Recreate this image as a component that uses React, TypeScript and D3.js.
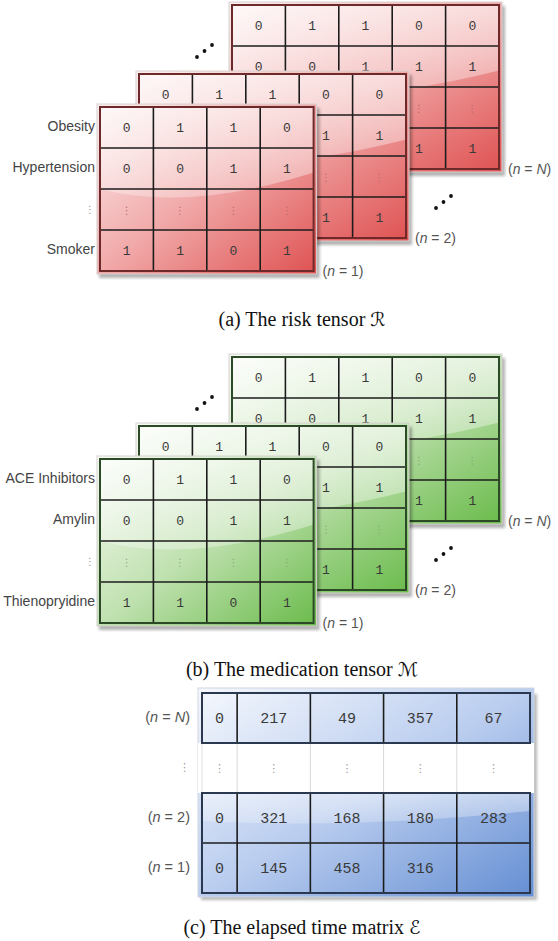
import React from "react";
import * as d3 from "d3";

// ---------- data ----------
const riskLabels = ["Obesity", "Hypertension", "⋮", "Smoker"];
const riskSlice1 = [["0", "1", "1", "0"], ["0", "0", "1", "1"], ["⋮", "⋮", "⋮", "⋮"], ["1", "1", "0", "1"]];
const riskSlice2 = [["0", "1", "1", "0", "0"], ["0", "0", "1", "1", "1"], ["⋮", "⋮", "⋮", "⋮", "⋮"], ["1", "1", "0", "1", "1"]];
const riskSliceN = [["0", "1", "1", "0", "0"], ["0", "0", "1", "1", "1"], ["⋮", "⋮", "⋮", "⋮", "⋮"], ["1", "1", "0", "1", "1"]];

const medLabels = ["ACE Inhibitors", "Amylin", "⋮", "Thienopryidine"];
const medSlice1 = [["0", "1", "1", "0"], ["0", "0", "1", "1"], ["⋮", "⋮", "⋮", "⋮"], ["1", "1", "0", "1"]];
const medSlice2 = [["0", "1", "1", "0", "0"], ["0", "0", "1", "1", "1"], ["⋮", "⋮", "⋮", "⋮", "⋮"], ["1", "1", "0", "1", "1"]];
const medSliceN = [["0", "1", "1", "0", "0"], ["0", "0", "1", "1", "1"], ["⋮", "⋮", "⋮", "⋮", "⋮"], ["1", "1", "0", "1", "1"]];

const sliceNames = ["N", "2", "1"];
const elapsedRowNames = ["N", "⋮", "2", "1"];
const elapsedRows = [
  ["0", "217", "49", "357", "67"],
  ["⋮", "⋮", "⋮", "⋮", "⋮"],
  ["0", "321", "168", "180", "283"],
  ["0", "145", "458", "316", ""],
];
const elapsedColWeights = [0.48, 1, 1, 1, 1];

const captions = [
  { pre: "(a) The risk tensor ", sym: "ℛ" },
  { pre: "(b) The medication tensor ", sym: "ℳ" },
  { pre: "(c) The elapsed time matrix ", sym: "ℰ" },
];

// ---------- layout ----------
const CW = 53.4;
const RH = 41;
const LABEL_FONT = "Liberation Sans, Arial, sans-serif";
const MONO = "Liberation Mono, DejaVu Sans Mono, monospace";
const SERIF = "Liberation Serif, Times New Roman, DejaVu Serif, serif";

type Pal = { id: string; light: string; mid: string; dark: string; edge: string; dots: string };
const RED: Pal = { id: "red", light: "#fdf0f0", mid: "#f1a8a8", dark: "#df5252", edge: "#6e2a2a", dots: "#b86a6a" };
const GREEN: Pal = { id: "green", light: "#f7fbf4", mid: "#c0e1b0", dark: "#6abb4b", edge: "#2d4a28", dots: "#86a87a" };
const BLUE: Pal = { id: "blue", light: "#f5f8fd", mid: "#bacdef", dark: "#648ed3", edge: "#2a3850", dots: "#8a9ab5" };

function Defs() {
  return (
    <defs>
      {[RED, GREEN, BLUE].map((p) => (
        <linearGradient key={p.id} id={`g-${p.id}`} x1="0" y1="0" x2="1" y2="1">
          <stop offset="0" stopColor={p.light} />
          <stop offset="0.5" stopColor={p.mid} />
          <stop offset="1" stopColor={p.dark} />
        </linearGradient>
      ))}
      <linearGradient id="gloss" x1="0" y1="0" x2="0" y2="1">
        <stop offset="0" stopColor="#fff" stopOpacity="0.6" />
        <stop offset="1" stopColor="#fff" stopOpacity="0.3" />
      </linearGradient>
      <filter id="blur" x="-10%" y="-10%" width="120%" height="120%">
        <feGaussianBlur stdDeviation="1.6" />
      </filter>
    </defs>
  );
}

function SliceLabel({ x, y, name, size = 14 }: { x: number; y: number; name: string; size?: number }) {
  const italic = name === "N";
  return (
    <text x={x} y={y} fontFamily={LABEL_FONT} fontSize={size} fill="#555" dominantBaseline="middle">
      (<tspan fontStyle="italic">n</tspan> = {italic ? <tspan fontStyle="italic">N</tspan> : name})
    </text>
  );
}

function Matrix({ x0, y0, values, pal, name }: { x0: number; y0: number; values: string[][]; pal: Pal; name: string }) {
  const nc = values[0].length;
  const nr = values.length;
  const xs = d3.scaleLinear().domain([0, nc]).range([x0, x0 + nc * CW]);
  const ys = d3.scaleLinear().domain([0, nr]).range([y0, y0 + nr * RH]);
  const w = xs(nc) - xs(0);
  const h = ys(nr) - ys(0);
  const gloss = `M${x0},${y0} H${x0 + w} V${y0 + h * 0.4} Q${x0 + w * 0.42},${y0 + h * 0.64} ${x0},${y0 + h * 0.5} Z`;
  return (
    <g>
      <rect x={x0 - 1} y={y0 + 1} width={w + 7} height={h + 6} fill="#000" opacity={0.3} filter="url(#blur)" />
      <rect x={x0 - 3} y={y0 - 3} width={w + 6} height={h + 6} fill={`url(#g-${pal.id})`} stroke="#d8d2d2" strokeWidth={1} />
      <path d={gloss} fill="url(#gloss)" />
      {d3.range(1, nc).map((c) => (
        <line key={"c" + c} x1={xs(c)} x2={xs(c)} y1={y0} y2={y0 + h} stroke="#1c1c1c" strokeWidth={1.6} />
      ))}
      {d3.range(1, nr).map((r) => (
        <line key={"r" + r} x1={x0} x2={x0 + w} y1={ys(r)} y2={ys(r)} stroke="#1c1c1c" strokeWidth={1.6} />
      ))}
      <rect x={x0} y={y0} width={w} height={h} fill="none" stroke={pal.edge} strokeWidth={2} />
      {values.map((row, r) =>
        row.map((v, c) => (
          <text
            key={r + "-" + c}
            x={(xs(c) + xs(c + 1)) / 2}
            y={(ys(r) + ys(r + 1)) / 2 + 1}
            textAnchor="middle"
            dominantBaseline="middle"
            fontFamily={v === "⋮" ? "DejaVu Sans, sans-serif" : MONO}
            fontSize={v === "⋮" ? 10 : 13}
            fill={v === "⋮" ? pal.dots : "#3a3a3a"}
          >
            {v}
          </text>
        ))
      )}
      <SliceLabel x={x0 + w + 9} y={y0 + h + 1} name={name} />
    </g>
  );
}

function Dots({ x, y }: { x: number; y: number }) {
  return (
    <g>
      {[0, 1, 2].map((i) => (
        <circle key={i} cx={x + i * 7.5} cy={y - i * 6} r={1.9} fill="#111" />
      ))}
    </g>
  );
}

function Tensor({ dy, labels, slices, pal }: { dy: number; labels: string[]; slices: string[][][]; pal: Pal }) {
  const origins = [
    { x: 232, y: 5 + dy },
    { x: 139, y: 74 + dy },
    { x: 100, y: 107 + dy },
  ];
  const front = origins[2];
  const ys = d3.scaleLinear().domain([0, labels.length]).range([front.y, front.y + labels.length * RH]);
  const mid = origins[1];
  const back = origins[0];
  return (
    <g>
      {slices.map((vals, i) => (
        <Matrix key={i} x0={origins[i].x} y0={origins[i].y} values={vals} pal={pal} name={sliceNames[i]} />
      ))}
      <Dots x={mid.x + 58} y={mid.y - 17} />
      <Dots x={mid.x + 5 * CW + 30} y={back.y + 4 * RH + 39} />
      {labels.map((l, i) => (
        <text
          key={l + i}
          x={95}
          y={(ys(i) + ys(i + 1)) / 2}
          textAnchor="end"
          dominantBaseline="middle"
          fontFamily={l === "⋮" ? "DejaVu Sans, sans-serif" : LABEL_FONT}
          fontSize={l === "⋮" ? 10 : 14}
          fill={l === "⋮" ? "#999" : "#444"}
        >
          {l}
        </text>
      ))}
    </g>
  );
}

function Elapsed() {
  const x0 = 202;
  const x1 = 530;
  const y0 = 693;
  const rh = 50;
  const cum = [0, ...d3.cumsum(elapsedColWeights)];
  const xs = d3.scaleLinear().domain([0, cum[cum.length - 1]]).range([x0, x1]);
  const colX = cum.map((c) => xs(c));
  const ys = d3.scaleLinear().domain([0, elapsedRows.length]).range([y0, y0 + elapsedRows.length * rh]);
  const w = x1 - x0;
  const h = ys(elapsedRows.length) - y0;
  const bt = ys(2);
  const gloss = `M${x0},${bt} H${x1} V${bt + 18} Q${x0 + w * 0.45},${bt + 36} ${x0},${bt + 28} Z`;
  return (
    <g>
      <rect x={x0 - 1} y={y0 + 1} width={w + 8} height={h + 6} fill="#000" opacity={0.28} filter="url(#blur)" />
      <rect x={x0 - 4} y={y0 - 5} width={w + 8} height={h + 9} fill="url(#g-blue)" stroke="#d0d6de" strokeWidth={1} />
      <rect x={x0 - 4} y={ys(1)} width={w + 8} height={rh} fill="#fff" />
      {colX.slice(1, -1).map((cx, i) => (
        <line key={"lc" + i} x1={cx} x2={cx} y1={ys(1)} y2={ys(2)} stroke="#d8d8d8" strokeWidth={1} />
      ))}
      <line x1={x0} x2={x0} y1={ys(1)} y2={ys(2)} stroke="#e2e2e2" strokeWidth={1} />
      <path d={gloss} fill="url(#gloss)" opacity={0.8} />
      {colX.slice(1, -1).map((cx, i) => (
        <line key={"tc" + i} x1={cx} x2={cx} y1={ys(0)} y2={ys(1)} stroke="#1c1c1c" strokeWidth={1.6} />
      ))}
      <rect x={x0} y={ys(0)} width={w} height={rh} fill="none" stroke={BLUE.edge} strokeWidth={2} />
      {colX.slice(1, -1).map((cx, i) => (
        <line key={"bc" + i} x1={cx} x2={cx} y1={ys(2)} y2={ys(4)} stroke="#1c1c1c" strokeWidth={1.6} />
      ))}
      <line x1={x0} x2={x1} y1={ys(3)} y2={ys(3)} stroke="#1c1c1c" strokeWidth={1.6} />
      <rect x={x0} y={ys(2)} width={w} height={2 * rh} fill="none" stroke={BLUE.edge} strokeWidth={2} />
      {elapsedRows.map((row, r) =>
        row.map((v, c) => (
          <text
            key={r + "-" + c}
            x={(colX[c] + colX[c + 1]) / 2}
            y={(ys(r) + ys(r + 1)) / 2 + 1}
            textAnchor="middle"
            dominantBaseline="middle"
            fontFamily={v === "⋮" ? "DejaVu Sans, sans-serif" : MONO}
            fontSize={v === "⋮" ? 11 : 15}
            fill={v === "⋮" ? "#999" : "#3a3a3a"}
          >
            {v}
          </text>
        ))
      )}
      {elapsedRowNames.map((n, r) =>
        n === "⋮" ? (
          <text key={r} x={190} y={(ys(r) + ys(r + 1)) / 2} textAnchor="end" dominantBaseline="middle" fontFamily="DejaVu Sans, sans-serif" fontSize={11} fill="#999">
            ⋮
          </text>
        ) : (
          <text key={r} x={190} y={(ys(r) + ys(r + 1)) / 2} textAnchor="end" dominantBaseline="middle" fontFamily={LABEL_FONT} fontSize={14.5} fill="#555">
            (<tspan fontStyle="italic">n</tspan> = {n === "N" ? <tspan fontStyle="italic">N</tspan> : n})
          </text>
        )
      )}
    </g>
  );
}

export default function App() {
  const captionY = [326, 676, 934];
  return (
    <svg width={558} height={941} style={{ position: "absolute", left: 0, top: 0, background: "#fff" }}>
      <Defs />
      <Tensor dy={0} labels={riskLabels} slices={[riskSliceN, riskSlice2, riskSlice1]} pal={RED} />
      <Tensor dy={352} labels={medLabels} slices={[medSliceN, medSlice2, medSlice1]} pal={GREEN} />
      <Elapsed />
      {captions.map((c, i) => (
        <text key={i} x={302} y={captionY[i]} textAnchor="middle" fontFamily={SERIF} fontSize={20} fill="#111">
          {c.pre}
          <tspan fontFamily="DejaVu Serif, DejaVu Sans, serif" fontSize={19}>
            {c.sym}
          </tspan>
        </text>
      ))}
    </svg>
  );
}
